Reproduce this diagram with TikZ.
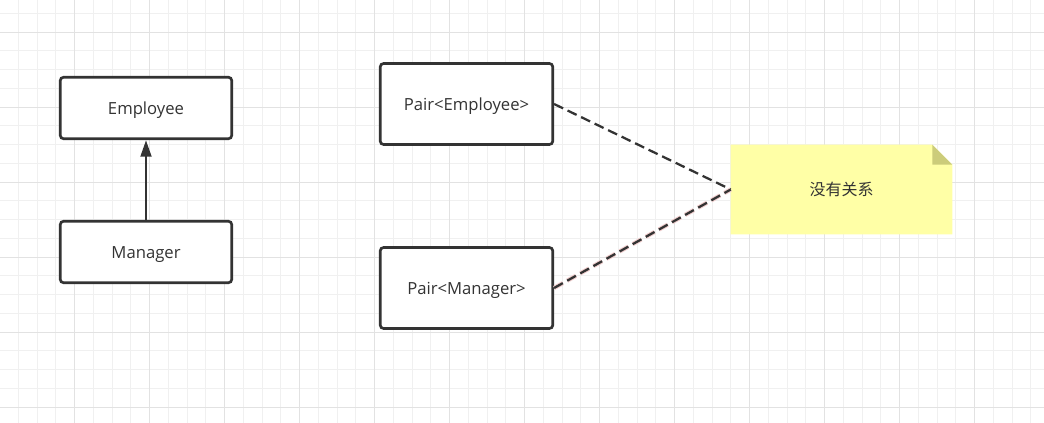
\documentclass[tikz,border=0pt]{standalone}
\usepackage{fontspec}
\setmainfont{Open Sans}
\newfontfamily\cjk{Noto Sans CJK SC}
\usetikzlibrary{arrows.meta,backgrounds}
\definecolor{gridminor}{RGB}{240,240,240}
\definecolor{gridmajor}{RGB}{226,226,226}
\definecolor{ink}{RGB}{51,51,51}
\definecolor{notefill}{RGB}{255,255,166}
\definecolor{foldfill}{RGB}{204,204,122}
\definecolor{halo}{RGB}{240,205,205}
\tikzset{
  gminor/.style={draw=gridminor, line width=0.75pt},
  gmajor/.style={draw=gridmajor, line width=0.75pt},
  umlbox/.style={draw=ink, line width=2pt, rounded corners=2.5pt, fill=white,
    text=ink, font=\fontsize{12.5}{15}\selectfont, inner sep=0pt,
    text height=10pt, text depth=0.6pt},
  notebox/.style={draw=none, text=ink, font=\cjk\fontsize{12}{14}\selectfont,
    minimum width=221*0.75pt, minimum height=89*0.75pt, inner sep=0pt},
  inherit/.style={draw=ink, line width=2.1pt, -{Triangle[length=12.5pt,width=8pt]}},
  assoc/.style={draw=ink, line width=1.7pt, dash pattern=on 7.5pt off 3.75pt},
}
\begin{document}
\begin{tikzpicture}[x=0.75pt,y=-0.75pt]
\useasboundingbox (0,0) rectangle (1044,423);
\begin{scope}[on background layer]
  \fill[white] (0,0) rectangle (1044,423);
  \foreach \i in {0,...,56} \draw[gminor] ({18.75*\i-0.5},0) -- ({18.75*\i-0.5},423);
  \foreach \j in {0,...,22} \draw[gminor] (0,{13.5+18.75*\j}) -- (1044,{13.5+18.75*\j});
  \foreach \i in {0,...,14} \draw[gmajor] ({75*\i-0.5},0) -- ({75*\i-0.5},423);
  \foreach \j in {0,...,5} \draw[gmajor] (0,{32.25+75*\j}) -- (1044,{32.25+75*\j});
\end{scope}

\node[umlbox, minimum width=171.5*0.75pt, minimum height=61.5*0.75pt] (emp) at (146,108) {Employee};
\node[umlbox, minimum width=171.5*0.75pt, minimum height=61.5*0.75pt] (mgr) at (146,252) {Manager};
\node[umlbox, minimum width=172.5*0.75pt, minimum height=81*0.75pt] (pe) at (466.5,104) {Pair<Employee>};
\node[umlbox, minimum width=172.5*0.75pt, minimum height=81*0.75pt] (pm) at (466.5,288) {Pair<Manager>};
\node[notebox] (note) at (841.5,189.5) {没有关系};

\begin{scope}[on background layer]
  \fill[notefill] (note.north west) -- ([xshift=-15pt]note.north east)
    -- ([yshift=-15pt]note.north east) -- (note.south east) -- (note.south west) -- cycle;
  \fill[foldfill] ([xshift=-15pt]note.north east) -- ([xshift=-15pt,yshift=-15pt]note.north east)
    -- ([yshift=-15pt]note.north east) -- cycle;
\end{scope}

\draw[inherit] (mgr.north) -- (emp.south);
\draw[assoc] (pe.east) -- (note.west);
\draw[assoc, preaction={draw=halo, line width=3.2pt, dash pattern=on 7.5pt off 3.75pt}] (pm.east) -- (note.west);
\end{tikzpicture}
\end{document}
